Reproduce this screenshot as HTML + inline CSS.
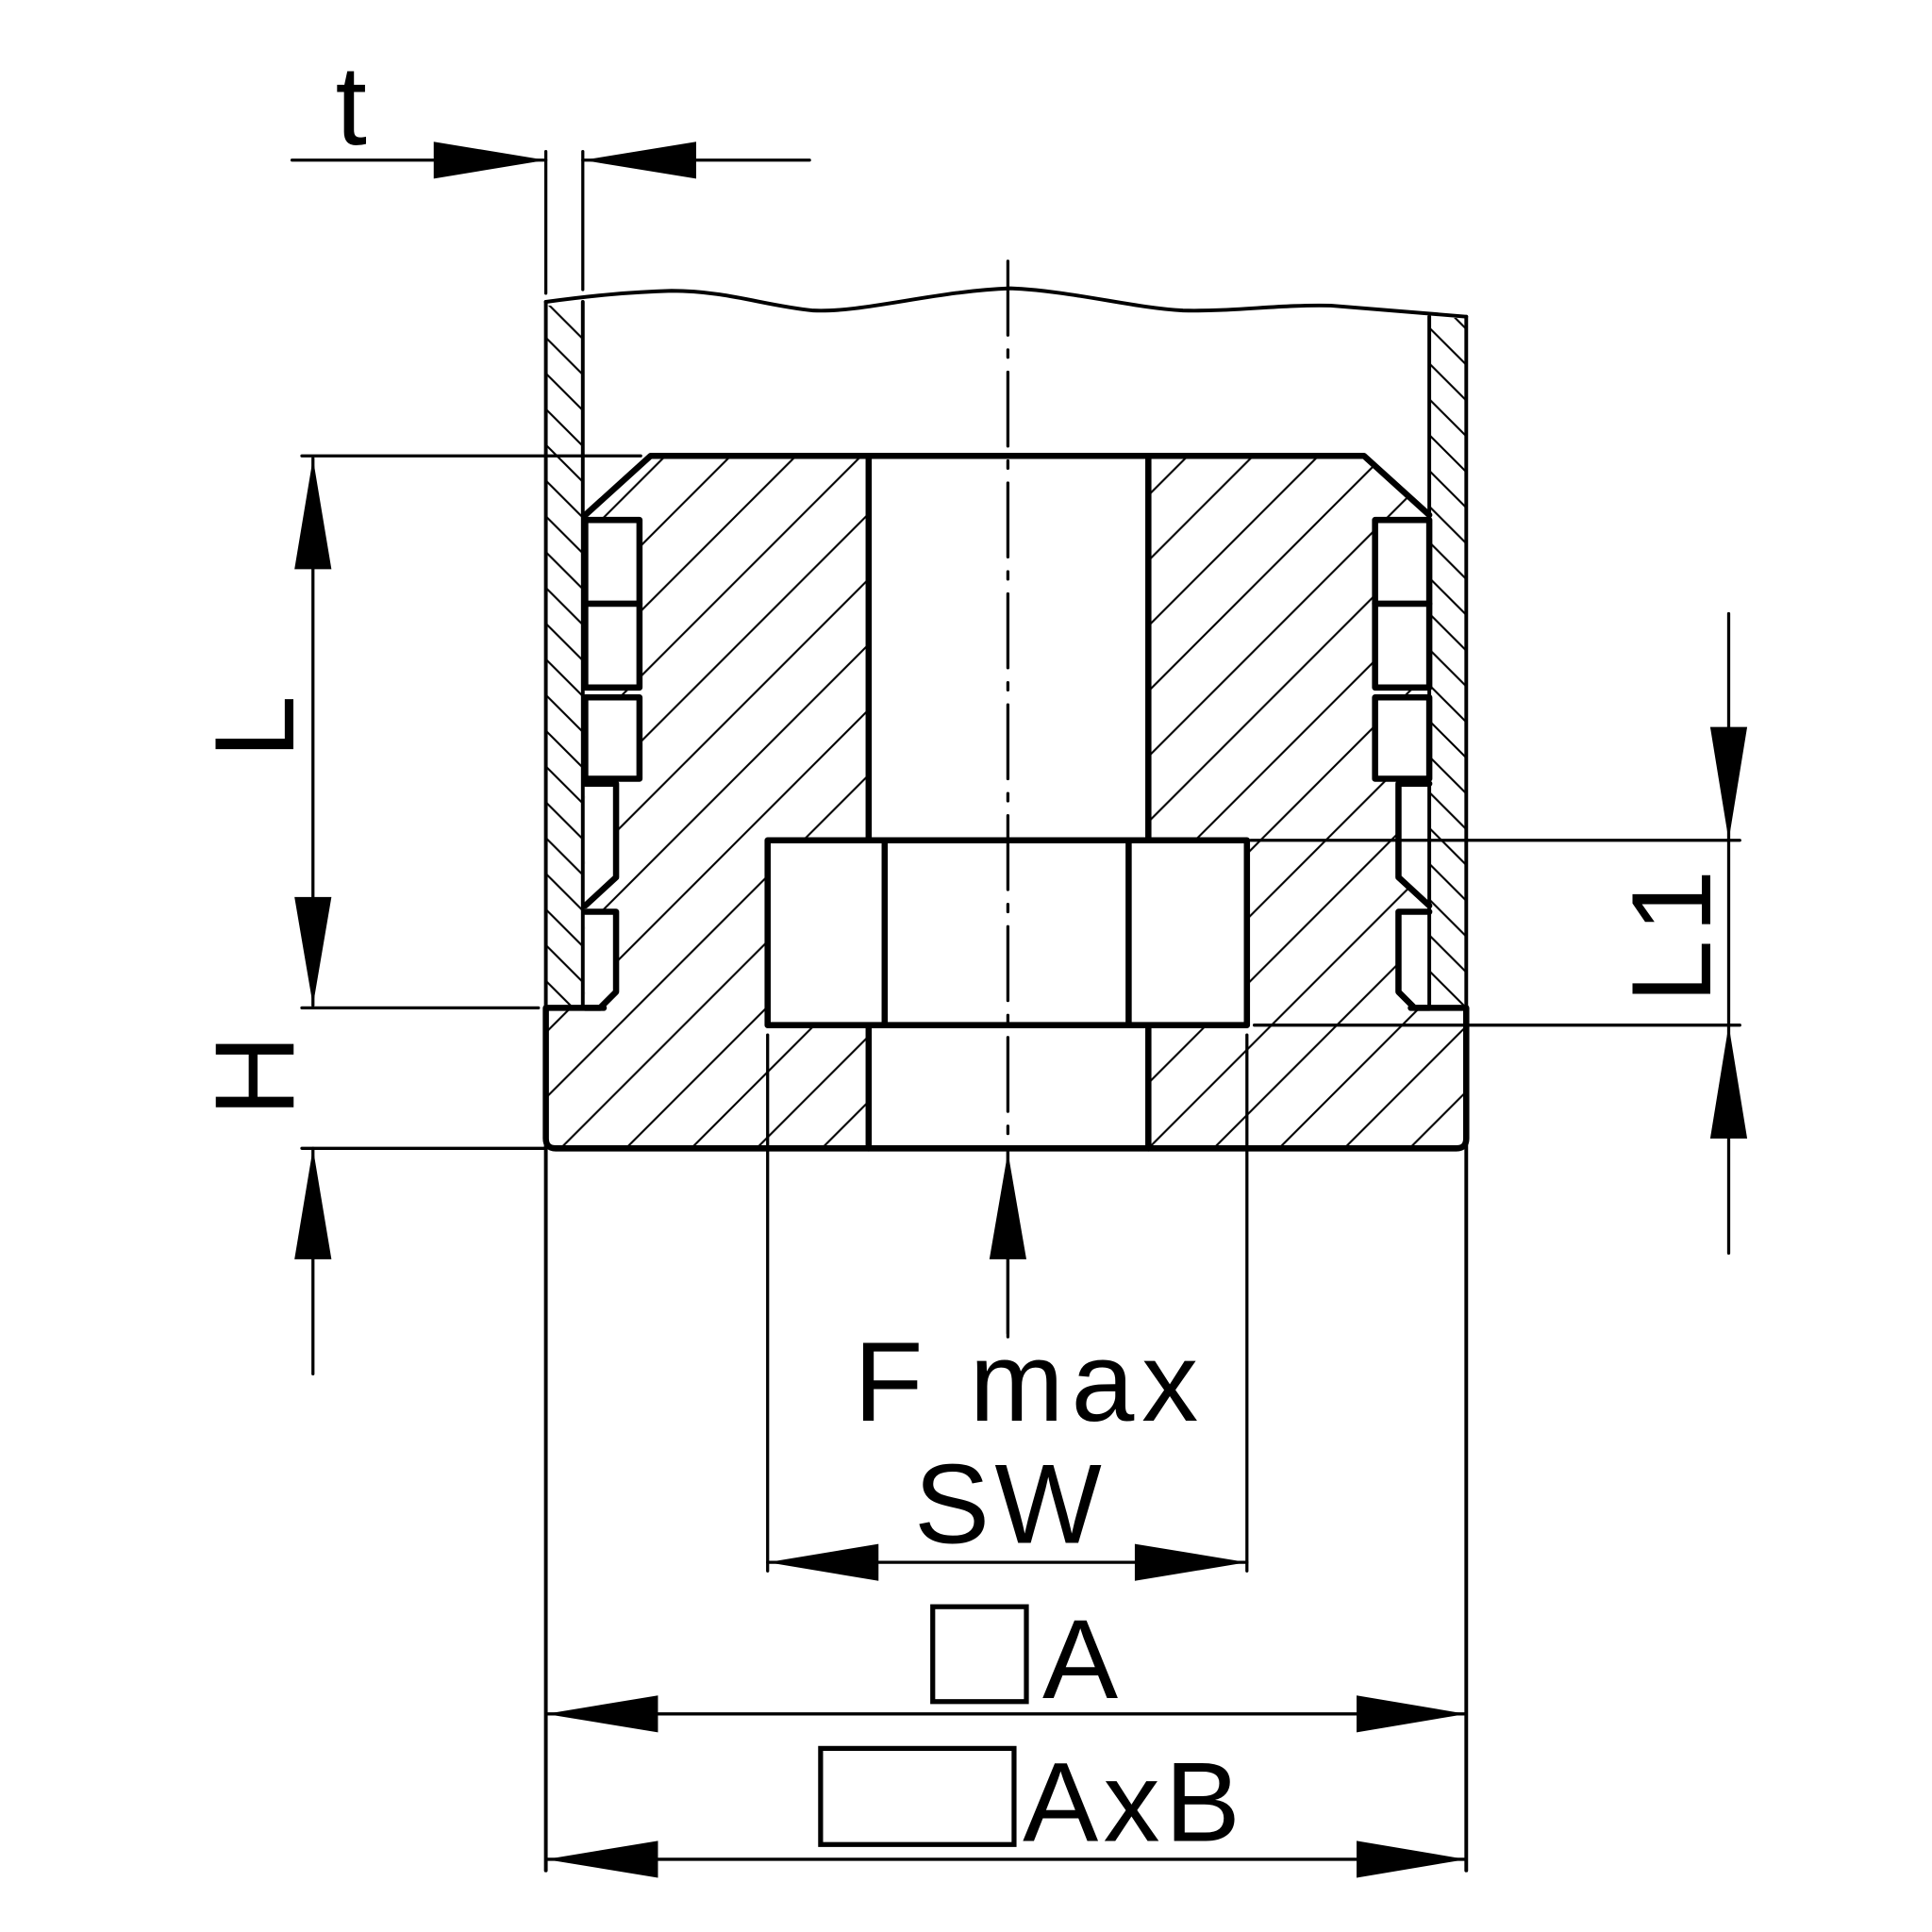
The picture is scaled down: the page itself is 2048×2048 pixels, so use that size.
<!DOCTYPE html>
<html><head><meta charset="utf-8"><style>html,body{margin:0;padding:0;background:#fff}svg{display:block}</style></head>
<body>
<svg width="2048" height="2048" viewBox="0 0 1568 1568" xmlns="http://www.w3.org/2000/svg">
<defs>
<pattern id="hb" patternUnits="userSpaceOnUse" width="53" height="53" x="540" y="370">
<line x1="0" y1="53" x2="53" y2="0" stroke="#000" stroke-width="1.6"/>
<line x1="-10" y1="10" x2="10" y2="-10" stroke="#000" stroke-width="1.6"/>
<line x1="43" y1="63" x2="63" y2="43" stroke="#000" stroke-width="1.6"/>
</pattern>
<pattern id="hw" patternUnits="userSpaceOnUse" width="29" height="29" x="443" y="245">
<line x1="0" y1="0" x2="29" y2="29" stroke="#000" stroke-width="1.6"/>
<line x1="-10" y1="19" x2="10" y2="39" stroke="#000" stroke-width="1.6"/>
<line x1="19" y1="-10" x2="39" y2="10" stroke="#000" stroke-width="1.6"/>
</pattern>
</defs>
<g fill="none" stroke="#000" stroke-linecap="round" stroke-linejoin="round">
<rect x="444" y="248" width="29" height="570" fill="url(#hw)" stroke="none"/>
<rect x="1160" y="258" width="30" height="560" fill="url(#hw)" stroke="none"/>
<polygon points="475,418 528,370 1107,370 1160,418 1160,818 1190,818 1190,932 443,932 443,818 475,818" fill="url(#hb)" stroke="none"/>
<rect x="705" y="372" width="227" height="560" fill="#fff" stroke="none"/>
<rect x="623" y="682" width="389" height="150" fill="#fff" stroke="none"/>
<g fill="#fff" stroke="#000" stroke-width="5">
<rect x="475" y="422" width="44" height="68"/>
<rect x="475" y="490" width="44" height="68"/>
<rect x="475" y="566" width="44" height="66"/>
<path d="M475,636 H500 V712 L475,735"/>
<path d="M475,740 H500 V805 L487,818 H475"/>
<rect x="1116" y="422" width="44" height="68"/>
<rect x="1116" y="490" width="44" height="68"/>
<rect x="1116" y="566" width="44" height="66"/>
<path d="M1160,636 H1135 V712 L1160,735"/>
<path d="M1160,740 H1135 V805 L1148,818 H1160"/>
</g>
<g stroke-width="3">
<line x1="443" y1="245" x2="443" y2="1518"/>
<line x1="473" y1="245" x2="473" y2="818"/>
<line x1="1190" y1="257" x2="1190" y2="1518"/>
<line x1="1160" y1="257" x2="1160" y2="818"/>
<path d="M443,245 C480,240 510,237 545,236 C590,236 620,248 660,252 C700,254 760,236 820,234 C870,236 920,250 960,252 C1000,253 1040,247 1080,248 L1190,257"/>
</g>
<g stroke-width="5">
<path d="M475,418 L528,370 H1107 L1160,418"/>
<line x1="705" y1="370" x2="705" y2="680"/>
<line x1="932" y1="370" x2="932" y2="680"/>
<line x1="705" y1="835" x2="705" y2="932"/>
<line x1="932" y1="835" x2="932" y2="932"/>
<rect x="623" y="682" width="389" height="150"/>
<line x1="718" y1="682" x2="718" y2="832"/>
<line x1="916" y1="682" x2="916" y2="832"/>
<path d="M490,818 H443 V924 Q443,932 451,932 H1182 Q1190,932 1190,924 V818 H1145"/>
</g>
<line x1="818" y1="212" x2="818" y2="1085" stroke-width="2.5" stroke-dasharray="60,12,6,12"/>
<g stroke-width="2.5">
<line x1="237" y1="130" x2="443" y2="130"/>
<line x1="473" y1="130" x2="657" y2="130"/>
<line x1="443" y1="123" x2="443" y2="238"/>
<line x1="473" y1="123" x2="473" y2="235"/>
<line x1="245" y1="370" x2="520" y2="370"/>
<line x1="245" y1="818" x2="437" y2="818"/>
<line x1="245" y1="932" x2="443" y2="932"/>
<line x1="254" y1="372" x2="254" y2="816"/>
<line x1="254" y1="932" x2="254" y2="1115"/>
<line x1="1015" y1="682" x2="1412" y2="682"/>
<line x1="1018" y1="832" x2="1412" y2="832"/>
<line x1="1403" y1="498" x2="1403" y2="1017"/>
<line x1="818" y1="935" x2="818" y2="1085"/>
<line x1="623" y1="840" x2="623" y2="1275"/>
<line x1="1012" y1="840" x2="1012" y2="1275"/>
<line x1="623" y1="1268" x2="1012" y2="1268"/>
<line x1="443" y1="1391" x2="1190" y2="1391"/>
<line x1="443" y1="1509" x2="1190" y2="1509"/>
</g>
</g>
<g fill="#000">
<polygon points="443,130 352,115 352,145"/>
<polygon points="473,130 565,115 565,145"/>
<polygon points="254,372 239,462 269,462"/>
<polygon points="254,816 239,728 269,728"/>
<polygon points="254,932 239,1022 269,1022"/>
<polygon points="1403,682 1388,590 1418,590"/>
<polygon points="1403,832 1388,924 1418,924"/>
<polygon points="818,935 803,1022 833,1022"/>
<polygon points="623,1268 713,1253 713,1283"/>
<polygon points="1012,1268 921,1253 921,1283"/>
<polygon points="443,1391 534,1376 534,1406"/>
<polygon points="1190,1391 1101,1376 1101,1406"/>
<polygon points="443,1509 534,1494 534,1524"/>
<polygon points="1190,1509 1101,1494 1101,1524"/>
</g>
<g fill="none" stroke="#000" stroke-width="4">
<rect x="757" y="1304" width="76" height="77"/>
<rect x="666" y="1419" width="157" height="78"/>
</g>
<g font-family="'Liberation Sans',sans-serif" fill="#000" font-size="92">
<text x="285" y="117" text-anchor="middle">t</text>
<text x="693" y="1153" letter-spacing="6">F max</text>
<text x="820" y="1252" text-anchor="middle" letter-spacing="4">SW</text>
<text x="846" y="1378">A</text>
<text x="830" y="1494" letter-spacing="4">AxB</text>
<text transform="translate(238,590) rotate(-90)" text-anchor="middle">L</text>
<text transform="translate(238,873) rotate(-90)" text-anchor="middle">H</text>
<text transform="translate(1388,757) rotate(-90)" text-anchor="middle" letter-spacing="6">L1</text>
</g>
</svg>
</body></html>
